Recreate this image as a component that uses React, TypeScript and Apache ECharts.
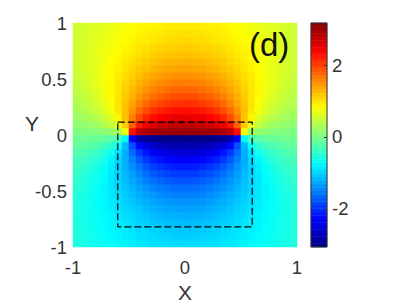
import React, { useEffect, useRef } from "react";
import * as echarts from "echarts";

// Estimated field values for one quadrant. Rows run from just above y = 0 up to y = 1,
// columns from just right of x = 0 out to x = 1 (cell size 1/16).
const quadrantRows: number[][] = [
  [3.02, 3.01, 3.0, 2.99, 2.96, 2.91, 2.79, 2.32, 0.75, 0.29, 0.17, 0.12, 0.09, 0.07, 0.06, 0.05],
  [2.77, 2.76, 2.73, 2.69, 2.62, 2.49, 2.25, 1.79, 1.16, 0.7, 0.46, 0.33, 0.25, 0.2, 0.16, 0.13],
  [2.53, 2.52, 2.48, 2.42, 2.32, 2.17, 1.94, 1.61, 1.22, 0.89, 0.65, 0.49, 0.39, 0.31, 0.26, 0.22],
  [2.31, 2.29, 2.25, 2.18, 2.08, 1.94, 1.74, 1.49, 1.22, 0.97, 0.77, 0.61, 0.49, 0.41, 0.34, 0.29],
  [2.12, 2.09, 2.05, 1.98, 1.89, 1.76, 1.59, 1.4, 1.2, 1.0, 0.82, 0.68, 0.57, 0.48, 0.41, 0.35],
  [1.93, 1.92, 1.87, 1.81, 1.73, 1.61, 1.47, 1.32, 1.16, 1.0, 0.86, 0.73, 0.62, 0.54, 0.46, 0.4],
  [1.78, 1.76, 1.72, 1.66, 1.59, 1.49, 1.38, 1.25, 1.12, 0.99, 0.87, 0.75, 0.66, 0.57, 0.51, 0.44],
  [1.63, 1.62, 1.58, 1.53, 1.47, 1.39, 1.29, 1.19, 1.08, 0.97, 0.86, 0.77, 0.68, 0.61, 0.53, 0.48],
  [1.51, 1.49, 1.47, 1.42, 1.36, 1.3, 1.22, 1.13, 1.04, 0.95, 0.85, 0.77, 0.69, 0.62, 0.56, 0.5],
  [1.4, 1.38, 1.36, 1.32, 1.27, 1.21, 1.15, 1.07, 1.0, 0.91, 0.84, 0.76, 0.7, 0.63, 0.58, 0.52],
  [1.3, 1.29, 1.27, 1.24, 1.19, 1.15, 1.08, 1.02, 0.96, 0.89, 0.82, 0.76, 0.69, 0.64, 0.58, 0.53],
  [1.21, 1.2, 1.19, 1.16, 1.12, 1.08, 1.03, 0.97, 0.92, 0.86, 0.8, 0.74, 0.69, 0.63, 0.59, 0.54],
  [1.14, 1.13, 1.11, 1.09, 1.06, 1.02, 0.98, 0.93, 0.88, 0.83, 0.78, 0.73, 0.68, 0.63, 0.58, 0.54],
  [1.07, 1.06, 1.05, 1.02, 1.0, 0.96, 0.93, 0.9, 0.84, 0.81, 0.76, 0.71, 0.67, 0.62, 0.58, 0.54],
  [1.01, 1.01, 0.99, 0.97, 0.95, 0.92, 0.89, 0.85, 0.82, 0.78, 0.74, 0.7, 0.65, 0.61, 0.57, 0.54],
  [0.95, 0.95, 0.94, 0.92, 0.91, 0.88, 0.85, 0.82, 0.78, 0.75, 0.71, 0.67, 0.64, 0.6, 0.57, 0.54],
];

const boxX = [-0.6, 0.6, 0.6, -0.6, -0.6];
const boxY = [0.115, 0.115, -0.82, -0.82, 0.115];
const colorbarTicks = [-2, 0, 2];
const colorbarMin = -3.06;
const colorbarMax = 3.17;
const colorbarLevels = 64;
const jet = ["#000080", "#0000ff", "#0080ff", "#00ffff", "#80ff80", "#ffff00", "#ff8000", "#ff0000", "#800000"];

const n = quadrantRows.length;
const cellLabels = Array.from({ length: 2 * n }, (_, i) => String(i));
const cells: number[][] = [];
for (let r = 0; r < 2 * n; r++) {
  for (let c = 0; c < 2 * n; c++) {
    const j = r < n ? n - 1 - r : r - n;
    const i = c < n ? n - 1 - c : c - n;
    cells.push([c, r, (r < n ? -1 : 1) * quadrantRows[j][i]]);
  }
}
// The colour bar is the colour scale itself, one cell per level.
const levelLabels = Array.from({ length: colorbarLevels }, (_, i) => String(i));
const levelCells = levelLabels.map((_, i) => [
  0,
  i,
  colorbarMin + ((i + 0.5) / colorbarLevels) * (colorbarMax - colorbarMin),
]);

const font = "Liberation Sans";
const ink = "#333333";

export default function App() {
  const ref = useRef<HTMLDivElement>(null);
  useEffect(() => {
    const chart = echarts.init(ref.current!, undefined, { renderer: "svg" });
    chart.setOption({
      animation: false,
      backgroundColor: "#fff",
      textStyle: { fontFamily: font },
      grid: [
        { left: 73, top: 23, width: 224, height: 224, outerBoundsMode: "none" },
        { left: 311, top: 23, width: 16, height: 224, outerBoundsMode: "none" },
      ],
      xAxis: [
        { type: "category", gridIndex: 0, data: cellLabels, show: false },
        {
          type: "value", gridIndex: 0, min: -1, max: 1, interval: 1, position: "bottom",
          name: "X", nameLocation: "middle", nameGap: 35,
          nameTextStyle: { fontSize: 21, color: ink, fontFamily: font },
          axisLine: { show: false }, axisTick: { show: false }, splitLine: { show: false },
          axisLabel: { fontSize: 18.5, color: ink, margin: 11, fontFamily: font },
        },
        { type: "category", gridIndex: 1, data: ["0"], show: false },
      ],
      yAxis: [
        { type: "category", gridIndex: 0, data: cellLabels, show: false },
        {
          type: "value", gridIndex: 0, min: -1, max: 1, interval: 0.5, position: "left",
          axisLine: { show: false }, axisTick: { show: false }, splitLine: { show: false },
          axisLabel: { fontSize: 18.5, color: ink, margin: 6, fontFamily: font, padding: [7, 0, 0, 0] },
        },
        { type: "category", gridIndex: 1, data: levelLabels, show: false },
        {
          type: "value", gridIndex: 1, min: colorbarMin, max: colorbarMax, position: "right", z: 8,
          axisLine: { show: false }, splitLine: { show: false },
          axisTick: { show: true, inside: true, length: 3, customValues: colorbarTicks, lineStyle: { color: ink } },
          axisLabel: { customValues: colorbarTicks, fontSize: 18.5, color: ink, margin: 5, fontFamily: font, padding: [7, 0, 0, 0] },
        },
      ],
      visualMap: {
        type: "continuous", show: false, seriesIndex: [0, 2], min: colorbarMin, max: colorbarMax,
        inRange: { color: jet },
      },
      series: [
        {
          type: "heatmap", xAxisIndex: 0, yAxisIndex: 0, data: cells,
          progressive: 0, itemStyle: { borderWidth: 0 }, emphasis: { disabled: true }, z: 1,
        },
        {
          type: "line", xAxisIndex: 1, yAxisIndex: 1, showSymbol: false, z: 5, silent: true,
          data: boxX.map((x, i) => [x, boxY[i]]),
          lineStyle: { color: "#000", width: 1.2, type: [7, 3] },
        },
        {
          type: "heatmap", xAxisIndex: 2, yAxisIndex: 2, data: levelCells,
          progressive: 0, itemStyle: { borderWidth: 0 }, emphasis: { disabled: true }, z: 1,
        },
      ],
      graphic: [
        { type: "text", x: 249, y: 28, z: 10, style: { text: "(d)", fontSize: 33, fontFamily: font, fill: "#111" } },
        { type: "text", x: 25, y: 113, z: 10, style: { text: "Y", fontSize: 21, fontFamily: font, fill: ink } },
        { type: "rect", z: 10, shape: { x: 311, y: 23, width: 16, height: 224 }, style: { fill: "none", stroke: "#333", lineWidth: 1 } },
      ],
    });
    return () => chart.dispose();
  }, []);
  return <div ref={ref} style={{ position: "absolute", left: 0, top: 0, width: 407, height: 306 }} />;
}
